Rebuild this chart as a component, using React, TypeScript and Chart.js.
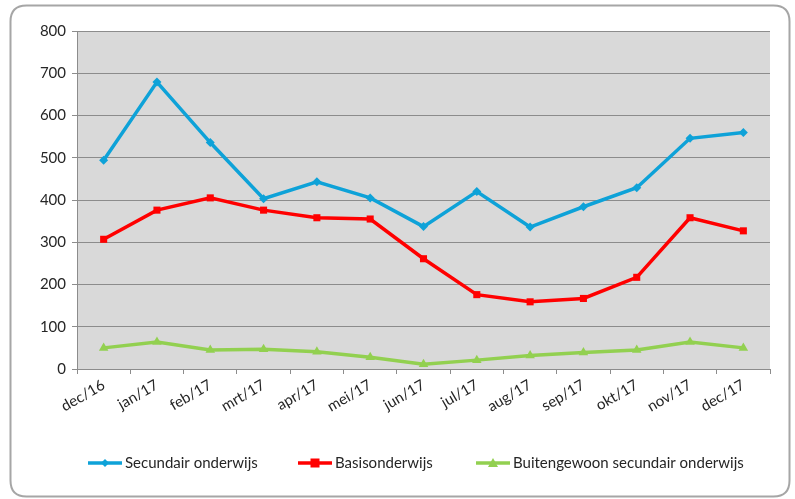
import React, { useEffect, useRef } from "react";
import { Chart, registerables } from "chart.js";

Chart.register(...registerables);

const categories = ["dec/16", "jan/17", "feb/17", "mrt/17", "apr/17", "mei/17", "jun/17", "jul/17", "aug/17", "sep/17", "okt/17", "nov/17", "dec/17"];
const secundair = [494, 679, 536, 403, 443, 405, 337, 420, 336, 384, 429, 546, 560];
const basis = [307, 376, 405, 376, 358, 355, 261, 176, 159, 167, 217, 358, 327];
const buitengewoon = [50, 64, 45, 47, 41, 28, 11, 21, 32, 39, 45, 64, 50];
const seriesNames = ["Secundair onderwijs", "Basisonderwijs", "Buitengewoon secundair onderwijs"];
const legendX = [88, 298, 476];

const FONT = "Lato, 'Open Sans', sans-serif";

const framePlugin = {
  id: "frame",
  beforeDraw(chart: any) {
    const { ctx, chartArea } = chart;
    ctx.save();
    ctx.fillStyle = "#ffffff";
    ctx.fillRect(0, 0, chart.width, chart.height);
    const x = 10.5, y = 5.5, w = 779, h = 491, r = 16;
    ctx.beginPath();
    ctx.moveTo(x + r, y);
    ctx.lineTo(x + w - r, y);
    ctx.quadraticCurveTo(x + w, y, x + w, y + r);
    ctx.lineTo(x + w, y + h - r);
    ctx.quadraticCurveTo(x + w, y + h, x + w - r, y + h);
    ctx.lineTo(x + r, y + h);
    ctx.quadraticCurveTo(x, y + h, x, y + h - r);
    ctx.lineTo(x, y + r);
    ctx.quadraticCurveTo(x, y, x + r, y);
    ctx.closePath();
    ctx.strokeStyle = "#a6a6a6";
    ctx.lineWidth = 2;
    ctx.stroke();
    ctx.fillStyle = "#d9d9d9";
    ctx.fillRect(chartArea.left, chartArea.top, chartArea.right - chartArea.left, chartArea.bottom - chartArea.top);
    ctx.restore();
  },
  afterDraw(chart: any) {
    const { ctx } = chart;
    ctx.save();
    const ly = 463;
    chart.data.datasets.forEach((ds: any, i: number) => {
      const x0 = legendX[i];
      ctx.strokeStyle = ds.borderColor;
      ctx.lineWidth = 3.5;
      ctx.beginPath();
      ctx.moveTo(x0, ly);
      ctx.lineTo(x0 + 34, ly);
      ctx.stroke();
      ctx.fillStyle = ds.borderColor;
      const cx = x0 + 17;
      ctx.beginPath();
      if (ds.pointStyle === "rectRot") {
        ctx.moveTo(cx, ly - 4);
        ctx.lineTo(cx + 4, ly);
        ctx.lineTo(cx, ly + 4);
        ctx.lineTo(cx - 4, ly);
      } else if (ds.pointStyle === "rect") {
        ctx.rect(cx - 4.5, ly - 4.5, 9, 9);
      } else {
        ctx.moveTo(cx, ly - 5);
        ctx.lineTo(cx + 5, ly + 4);
        ctx.lineTo(cx - 5, ly + 4);
      }
      ctx.closePath();
      ctx.fill();
      ctx.fillStyle = "#262626";
      ctx.font = `15px ${FONT}`;
      ctx.textBaseline = "middle";
      ctx.textAlign = "left";
      ctx.fillText(ds.label, x0 + 37, ly);
    });
    ctx.restore();
  },
};

export default function App() {
  const ref = useRef<HTMLCanvasElement>(null);
  useEffect(() => {
    if (!ref.current) return;
    const chart = new Chart(ref.current, {
      type: "line",
      data: {
        labels: categories,
        datasets: [
          {
            label: seriesNames[0],
            data: secundair,
            borderColor: "#0ea2d8",
            backgroundColor: "#0ea2d8",
            borderWidth: 3.5,
            pointStyle: "rectRot",
            pointRadius: 4.5,
            pointBorderWidth: 0,
            tension: 0,
          },
          {
            label: seriesNames[1],
            data: basis,
            borderColor: "#ff0000",
            backgroundColor: "#ff0000",
            borderWidth: 3.5,
            pointStyle: "rect",
            pointRadius: 5,
            pointBorderWidth: 0,
            tension: 0,
          },
          {
            label: seriesNames[2],
            data: buitengewoon,
            borderColor: "#92d050",
            backgroundColor: "#92d050",
            borderWidth: 3.5,
            pointStyle: "triangle",
            pointRadius: 5.5,
            pointBorderWidth: 0,
            tension: 0,
          },
        ],
      },
      options: {
        animation: false,
        responsive: false,
        devicePixelRatio: 1,
        layout: { padding: { left: 10, top: 31, right: 25, bottom: 0 } },
        plugins: { legend: { display: false }, tooltip: { enabled: false } },
        scales: {
          x: {
            offset: true,
            grid: { offset: true, drawOnChartArea: false, drawTicks: true, tickLength: 5, color: "#8c8c8c" },
            border: { display: true, color: "#8c8c8c", width: 1 },
            ticks: {
              minRotation: 30,
              maxRotation: 30,
              autoSkip: false,
              padding: 2,
              color: "#262626",
              font: { family: FONT, size: 15 },
            },
            afterFit: (scale: any) => {
              scale.height = 130;
            },
          },
          y: {
            min: 0,
            max: 800,
            ticks: { stepSize: 100, color: "#262626", padding: 6, font: { family: FONT, size: 15 } },
            grid: { color: "#8c8c8c", tickLength: 5, lineWidth: 1 },
            border: { display: true, color: "#8c8c8c", width: 1 },
            afterFit: (scale: any) => {
              scale.width = 67;
            },
          },
        },
      },
      plugins: [framePlugin],
    });
    return () => chart.destroy();
  }, []);
  return (
    <div style={{ position: "absolute", left: 0, top: 0, width: 795, height: 499 }}>
      <canvas ref={ref} width={795} height={499} style={{ width: 795, height: 499, display: "block" }} />
    </div>
  );
}
